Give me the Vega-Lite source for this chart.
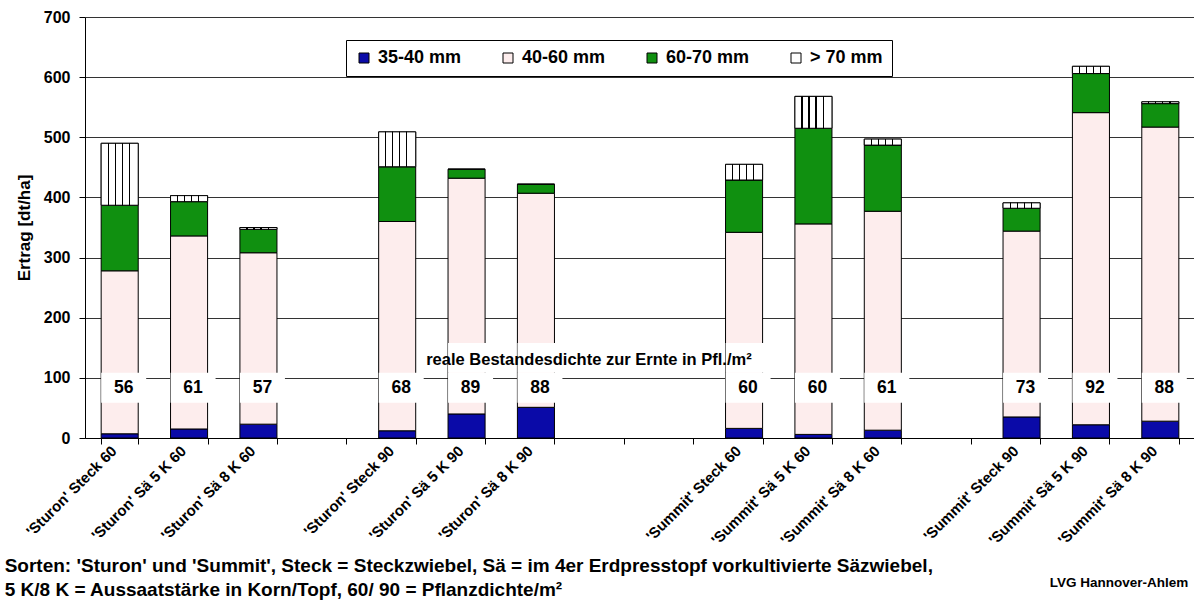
{
  "$schema": "https://vega.github.io/schema/vega-lite/v6.json",
  "width": 1110,
  "height": 421,
  "autosize": {"type": "none"},
  "padding": {"left": 85, "top": 17, "right": 0, "bottom": 165},
  "datasets": {
    "ertrag": [
      {"Sorte": "'Sturon' Steck 60", "35-40 mm": 7, "40-60 mm": 271, "60-70 mm": 109, "> 70 mm": 103, "Dichte": 56},
      {"Sorte": "'Sturon' Sä 5 K 60", "35-40 mm": 15, "40-60 mm": 321, "60-70 mm": 57, "> 70 mm": 10, "Dichte": 61},
      {"Sorte": "'Sturon' Sä 8 K 60", "35-40 mm": 23, "40-60 mm": 285, "60-70 mm": 39, "> 70 mm": 3, "Dichte": 57},
      {"Sorte": "'Sturon' Steck 90", "35-40 mm": 12, "40-60 mm": 348, "60-70 mm": 91, "> 70 mm": 58, "Dichte": 68},
      {"Sorte": "'Sturon' Sä 5 K 90", "35-40 mm": 40, "40-60 mm": 392, "60-70 mm": 15, "> 70 mm": 0, "Dichte": 89},
      {"Sorte": "'Sturon' Sä 8 K 90", "35-40 mm": 51, "40-60 mm": 356, "60-70 mm": 15, "> 70 mm": 0, "Dichte": 88},
      {"Sorte": "'Summit' Steck 60", "35-40 mm": 16, "40-60 mm": 326, "60-70 mm": 87, "> 70 mm": 26, "Dichte": 60},
      {"Sorte": "'Summit' Sä 5 K 60", "35-40 mm": 6, "40-60 mm": 350, "60-70 mm": 159, "> 70 mm": 53, "Dichte": 60},
      {"Sorte": "'Summit' Sä 8 K 60", "35-40 mm": 13, "40-60 mm": 364, "60-70 mm": 110, "> 70 mm": 10, "Dichte": 61},
      {"Sorte": "'Summit' Steck 90", "35-40 mm": 35, "40-60 mm": 309, "60-70 mm": 38, "> 70 mm": 9, "Dichte": 73},
      {"Sorte": "'Summit' Sä 5 K 90", "35-40 mm": 22, "40-60 mm": 519, "60-70 mm": 65, "> 70 mm": 12, "Dichte": 92},
      {"Sorte": "'Summit' Sä 8 K 90", "35-40 mm": 28, "40-60 mm": 489, "60-70 mm": 39, "> 70 mm": 3, "Dichte": 88}
    ]
  },
  "data": {"name": "ertrag"},
  "layer": [
    {
      "transform": [
        {"fold": ["35-40 mm", "40-60 mm", "60-70 mm", "> 70 mm"], "as": ["Klasse", "Ertrag"]},
        {"stack": "Ertrag", "groupby": ["Sorte"], "sort": [{"field": "Klasse", "order": "ascending"}], "as": ["y0", "y1"]}
      ],
      "mark": {"type": "bar", "stroke": "black", "strokeWidth": 1},
      "encoding": {
        "x": {
          "field": "Sorte", "type": "nominal",
          "scale": {
            "domain": ["'Sturon' Steck 60", "'Sturon' Sä 5 K 60", "'Sturon' Sä 8 K 60", "gap1", "'Sturon' Steck 90", "'Sturon' Sä 5 K 90", "'Sturon' Sä 8 K 90", "gap2", "gap3", "'Summit' Steck 60", "'Summit' Sä 5 K 60", "'Summit' Sä 8 K 60", "gap4", "'Summit' Steck 90", "'Summit' Sä 5 K 90", "'Summit' Sä 8 K 90"],
            "paddingInner": 0.466, "paddingOuter": 0.233
          },
          "axis": {
            "title": null, "labelAngle": -45, "labelAlign": "right", "labelBaseline": "middle",
            "labelFontSize": 15, "labelPadding": 4, "labelOffset": -6, "tickSize": 6, "tickBand": "extent",
            "labelExpr": "indexof(datum.label, 'gap') === 0 ? '' : datum.label"
          }
        },
        "y": {
          "field": "y0", "type": "quantitative",
          "scale": {"domain": [0, 700], "nice": false},
          "axis": {
            "title": "Ertrag [dt/ha]", "values": [0, 100, 200, 300, 400, 500, 600, 700],
            "labelFontSize": 16, "titleFontSize": 17, "tickSize": 6, "labelPadding": 9, "titlePadding": 10,
            "grid": true, "gridColor": "#333333", "gridWidth": 1
          }
        },
        "y2": {"field": "y1"},
        "color": {
          "field": "Klasse", "type": "nominal",
          "scale": {"domain": ["35-40 mm", "40-60 mm", "60-70 mm", "> 70 mm"], "range": ["#0a0aa8", "#fdeded", "#109010", "#ffffff"]},
          "legend": {
            "title": null, "orient": "none", "legendX": 261, "legendY": 23, "direction": "horizontal", "columns": 4,
            "gridAlign": "all", "columnPadding": 37, "symbolType": "square", "symbolSize": 100,
            "symbolStrokeColor": "black", "symbolStrokeWidth": 1, "labelFontSize": 18, "labelFontWeight": "bold",
            "labelColor": "black", "labelOffset": 5, "strokeColor": "black", "fillColor": "white", "padding": 9
          }
        }
      }
    },
    {
      "transform": [
        {"fold": ["35-40 mm", "40-60 mm", "60-70 mm", "> 70 mm"], "as": ["Klasse", "Ertrag"]},
        {"stack": "Ertrag", "groupby": ["Sorte"], "sort": [{"field": "Klasse", "order": "ascending"}], "as": ["y0", "y1"]},
        {"filter": "datum.Klasse === '> 70 mm' && datum.Ertrag > 0"}
      ],
      "mark": {
        "type": "bar", "stroke": "black", "strokeWidth": 1,
        "fill": {
          "gradient": "linear", "x1": 0, "y1": 0, "x2": 1, "y2": 0,
          "stops": [
            {"offset": 0, "color": "white"}, {"offset": 0.175, "color": "white"}, {"offset": 0.175, "color": "black"}, {"offset": 0.205, "color": "black"}, {"offset": 0.205, "color": "white"},
            {"offset": 0.365, "color": "white"}, {"offset": 0.365, "color": "black"}, {"offset": 0.395, "color": "black"}, {"offset": 0.395, "color": "white"},
            {"offset": 0.555, "color": "white"}, {"offset": 0.555, "color": "black"}, {"offset": 0.585, "color": "black"}, {"offset": 0.585, "color": "white"},
            {"offset": 0.745, "color": "white"}, {"offset": 0.745, "color": "black"}, {"offset": 0.775, "color": "black"}, {"offset": 0.775, "color": "white"},
            {"offset": 1, "color": "white"}
          ]
        }
      },
      "encoding": {
        "x": {"field": "Sorte", "type": "nominal"},
        "y": {"field": "y0", "type": "quantitative"},
        "y2": {"field": "y1"}
      }
    },
    {
      "transform": [{"filter": {"field": "Sorte", "oneOf": ["'Sturon' Sä 5 K 90", "'Sturon' Sä 8 K 90", "'Summit' Steck 60"]}}],
      "mark": {"type": "bar", "fill": "white", "width": 45, "xOffset": 4},
      "encoding": {
        "x": {"field": "Sorte", "type": "nominal"},
        "y": {"datum": 158, "type": "quantitative"},
        "y2": {"datum": 108.4}
      }
    },
    {
      "mark": {"type": "bar", "fill": "white", "width": 45, "xOffset": 4},
      "encoding": {
        "x": {"field": "Sorte", "type": "nominal"},
        "y": {"datum": 108.4, "type": "quantitative"},
        "y2": {"datum": 58.6}
      }
    },
    {
      "mark": {"type": "text", "fontSize": 17.5, "fontWeight": "bold", "color": "black", "dx": 4, "baseline": "middle"},
      "encoding": {
        "x": {"field": "Sorte", "type": "nominal"},
        "y": {"datum": 83, "type": "quantitative"},
        "text": {"field": "Dichte"}
      }
    },
    {
      "data": {"values": [{"t": "reale Bestandesdichte zur Ernte in Pfl./m²"}]},
      "mark": {"type": "text", "fontSize": 16.5, "fontWeight": "bold", "color": "black", "dx": 53, "baseline": "middle", "align": "center"},
      "encoding": {
        "x": {"datum": "'Sturon' Sä 8 K 90", "type": "nominal"},
        "y": {"datum": 130, "type": "quantitative"},
        "text": {"field": "t"}
      }
    },
    {
      "data": {"values": [{"t": ["Sorten: 'Sturon' und 'Summit', Steck = Steckzwiebel, Sä = im 4er Erdpresstopf vorkultivierte Säzwiebel,", "5 K/8 K = Aussaatstärke in Korn/Topf, 60/ 90 = Pflanzdichte/m²"]}]},
      "mark": {"type": "text", "fontSize": 19, "fontWeight": "bold", "color": "black", "dx": -115, "baseline": "alphabetic", "align": "left", "lineHeight": 24},
      "encoding": {
        "x": {"datum": "'Sturon' Steck 60", "type": "nominal"},
        "y": {"datum": -222, "type": "quantitative"},
        "text": {"field": "t"}
      }
    },
    {
      "data": {"values": [{"t": "LVG Hannover-Ahlem"}]},
      "mark": {"type": "text", "fontSize": 13.5, "fontWeight": "bold", "color": "black", "dx": 28, "baseline": "middle", "align": "right"},
      "encoding": {
        "x": {"datum": "'Summit' Sä 8 K 90", "type": "nominal"},
        "y": {"datum": -241.8, "type": "quantitative"},
        "text": {"field": "t"}
      }
    }
  ],
  "config": {
    "font": "Liberation Sans",
    "view": {"stroke": null},
    "axis": {"labelFontWeight": "bold", "titleFontWeight": "bold", "labelColor": "black", "titleColor": "black", "domainColor": "black", "tickColor": "black"}
  }
}
